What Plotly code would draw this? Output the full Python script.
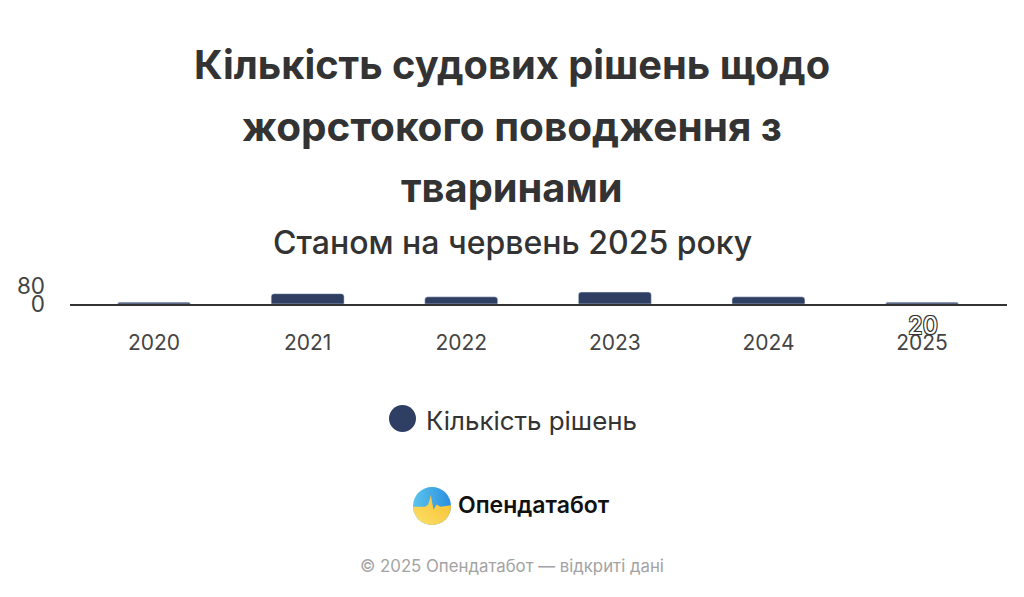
import base64
import plotly.graph_objects as go

years = ["2020", "2021", "2022", "2023", "2024", "2025"]
decisions = [8, 46, 32, 53, 32, 8]
y_tick_values = [0, 80]
title_lines = ["Кількість судових рішень щодо", "жорстокого поводження з", "тваринами"]
title_sizes = [39.8, 40.5, 39.8]
subtitle = "Станом на червень 2025 року"
series_name = "Кількість рішень"
brand = "Опендатабот"
footer = "© 2025 Опендатабот — відкриті дані"
stray_label = "20"

W, H = 1024, 597
NAVY = "#2f3f63"
FONT = "Inter, 'Noto Sans', sans-serif"

logo_svg = """<svg xmlns='http://www.w3.org/2000/svg' viewBox='0 0 100 100'>
<defs>
<linearGradient id='b' x1='0' y1='0' x2='1' y2='0'><stop offset='0' stop-color='#5cc4ec'/><stop offset='1' stop-color='#2a8fe0'/></linearGradient>
<linearGradient id='y' x1='0' y1='1' x2='1' y2='0'><stop offset='0' stop-color='#fbe06a'/><stop offset='1' stop-color='#f8bf2e'/></linearGradient>
<clipPath id='c'><circle cx='50' cy='50' r='50'/></clipPath></defs>
<g clip-path='url(#c)'><rect width='100' height='100' fill='url(#b)'/>
<path d='M0 52 L32 52 L40 46 L47 22 L54 60 L62 46 L72 52 L100 48 L100 100 L0 100 Z' fill='url(#y)'/></g></svg>"""
logo_uri = "data:image/svg+xml;base64," + base64.b64encode(logo_svg.encode()).decode()

fig = go.Figure(go.Bar(x=years, y=decisions, marker_color=NAVY, name=series_name,
                       showlegend=False, hoverinfo="x+y"))

def note(text, x, y, size, color, weight=400, shadow=None):
    font = dict(family=FONT, size=size, color=color, weight=weight)
    if shadow:
        font["shadow"] = shadow
    return dict(text=text, xref="paper", yref="paper", x=x, y=y, xanchor="center", yanchor="middle",
                showarrow=False, font=font)

MARGIN_L, MARGIN_R, MARGIN_T, MARGIN_B = 70, 17, 286, 293
PW = W - MARGIN_L - MARGIN_R
PH = H - MARGIN_T - MARGIN_B
def px(x): return (x - MARGIN_L) / PW
def py(y): return (H - MARGIN_B - y) / PH

annotations = []
for line, y, size in zip(title_lines, [64, 126, 187], title_sizes):
    annotations.append(note(line, px(512), py(y), size, "#333333", 700))
annotations.append(note(subtitle, px(512), py(242), 32, "#333333", 500))
annotations.append(note(series_name, px(531), py(420), 25.9, "#333333", 400))
annotations.append(note(brand, px(534), py(505), 23, "#111111", 600))
annotations.append(note(footer, px(512), py(566), 16.8, "#a3a3a3", 400))
halo = "-1px -1px 0 #333,1px -1px 0 #333,-1px 1px 0 #333,1px 1px 0 #333"
annotations.append(note(stray_label, px(923), py(325), 24, "#ffffff", 400, shadow=halo))

fig.update_layout(
    width=W, height=H, autosize=False,
    margin=dict(l=MARGIN_L, r=MARGIN_R, t=MARGIN_T, b=MARGIN_B, pad=0),
    paper_bgcolor="white", plot_bgcolor="white",
    bargap=0.525, barcornerradius=3, showlegend=False,
    font=dict(family=FONT, color="#444444"),
    xaxis=dict(type="category", range=[-0.547, 5.553], showgrid=False, ticks="", ticklabelstandoff=19,
               showline=True, linecolor="#333333", linewidth=1.5, zeroline=False,
               tickfont=dict(size=21, color="#444444", family=FONT)),
    yaxis=dict(range=[0, 80], tickvals=y_tick_values, ticktext=[str(v) for v in y_tick_values],
               gridcolor="#e6e6e6", gridwidth=1, zeroline=False, showline=False, ticklabelstandoff=24,
               tickfont=dict(size=22.5, color="#444444", family=FONT), ticks=""),
    annotations=annotations,
    shapes=[dict(type="circle", xref="paper", yref="paper", x0=px(389), x1=px(416), y0=py(432), y1=py(405),
                 fillcolor=NAVY, line_width=0)],
    images=[dict(source=logo_uri, xref="paper", yref="paper", x=px(413), y=py(487), sizex=38/PW, sizey=38/PH,
                 xanchor="left", yanchor="top", sizing="stretch", layer="above")],
)
fig.write_html("out.html", config={"displayModeBar": False},
               post_script="document.body.style.margin='0';document.body.style.overflow='hidden';")
